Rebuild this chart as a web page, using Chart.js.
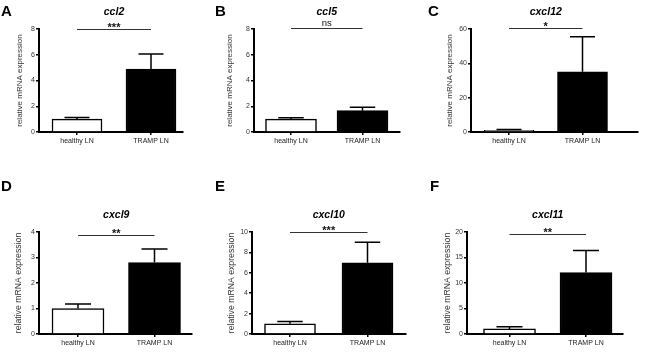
<!DOCTYPE html>
<html><head><meta charset="utf-8">
<script src="https://cdn.jsdelivr.net/npm/chart.js@4"></script>
<style>
body{margin:0;background:#fff;width:650px;height:357px;overflow:hidden;position:relative}
canvas{position:absolute;left:0;top:0}
</style></head>
<body>
<script>
// ---- data ----
const categories = ['healthy LN', 'TRAMP LN'];
const genes = ['ccl2', 'ccl5', 'cxcl12', 'cxcl9', 'cxcl10', 'cxcl11'];
const panelLetters = ['A', 'B', 'C', 'D', 'E', 'F'];
const healthyMean = [1.0, 1.0, 1.0, 1.0, 1.0, 1.0];
const healthyUpper = [1.12, 1.1, 1.4, 1.18, 1.23, 1.42];
const trampMean = [4.88, 1.66, 35.1, 2.8, 6.98, 12.05];
const trampUpper = [6.05, 1.92, 55.5, 3.33, 9.0, 16.35];
const yMax = [8, 8, 60, 4, 10, 20];
const yStep = [2, 2, 20, 1, 2, 5];
const significance = ['***', 'ns', '*', '**', '***', '**'];
const yAxisTitle = 'relative mRNA expression';

// ---- layout (pixel geometry of each panel) ----
const layout = [
  {L:39,  R:183, T:29,  B:132, c1:77,    c2:151,   bw:50, titleX:20,  lx:1,   ly:16,  sig:0, af:8},
  {L:254, R:400, T:29,  B:132, c1:291,   c2:362.5, bw:51, titleX:230, lx:215, ly:16,  sig:-1, af:8},
  {L:471, R:638, T:29,  B:132, c1:509,   c2:582.5, bw:50, titleX:450, lx:428, ly:16,  sig:-1, af:8},
  {L:39,  R:192, T:232, B:334, c1:78,    c2:154.5, bw:52, titleX:19,  lx:1,   ly:191, sig:3, af:8.7},
  {L:252, R:406, T:232, B:334, c1:290,   c2:367.5, bw:51, titleX:232, lx:215, ly:191, sig:0, af:8.7},
  {L:467, R:623, T:232, B:334, c1:509.5, c2:586,   bw:52, titleX:448, lx:430, ly:191, sig:2, af:8.7}
];
const W = 650, H = 357, XH = 20;
const FONT = '"Liberation Sans", Arial, Helvetica, sans-serif';

function overlay(i, g) {
  return {
    id: 'overlay' + i,
    afterDraw(chart) {
      const ctx = chart.ctx, ys = chart.scales.y, xs = chart.scales.x;
      const meta = chart.getDatasetMeta(0);
      const means = [healthyMean[i], trampMean[i]];
      const uppers = [healthyUpper[i], trampUpper[i]];
      ctx.save();
      ctx.strokeStyle = '#000';
      ctx.lineWidth = 1.5;
      meta.data.forEach((bar, k) => {
        const x = bar.x;
        const y0 = ys.getPixelForValue(means[k]);
        const y1 = ys.getPixelForValue(uppers[k]);
        const cap = bar.width / 4;
        ctx.beginPath();
        ctx.moveTo(x, y0); ctx.lineTo(x, y1);
        ctx.moveTo(x - cap, y1); ctx.lineTo(x + cap, y1);
        ctx.stroke();
      });
      // significance line
      const x1 = meta.data[0].x, x2 = meta.data[1].x;
      const lineY = chart.chartArea.top + g.sig;
      ctx.strokeStyle = '#333';
      ctx.lineWidth = 1;
      ctx.beginPath(); ctx.moveTo(x1, lineY + 0.5); ctx.lineTo(x2, lineY + 0.5); ctx.stroke();
      const mid = xs.getPixelForValue(1.5);
      ctx.fillStyle = '#111';
      ctx.textAlign = 'center';
      ctx.textBaseline = 'alphabetic';
      if (significance[i] === 'ns') {
        ctx.font = '9.5px ' + FONT;
        ctx.fillText(significance[i], mid, lineY - 2);
      } else {
        ctx.font = 'bold 11px ' + FONT;
        ctx.fillText(significance[i], mid, lineY + 1.5);
      }
      // gene title
      ctx.font = 'italic bold 10.5px ' + FONT;
      ctx.fillStyle = '#000';
      ctx.fillText(genes[i], mid, chart.chartArea.top - 14.5);
      // panel letter
      ctx.font = 'bold 15px ' + FONT;
      ctx.textAlign = 'left';
      ctx.fillText(panelLetters[i], g.lx, g.ly);
      ctx.restore();
    }
  };
}

genes.forEach((gene, i) => {
  const g = layout[i];
  const cv = document.createElement('canvas');
  cv.width = W; cv.height = H;
  document.body.appendChild(cv);
  const unit = g.c2 - g.c1;
  const xmin = 1 - (g.c1 - g.L) / unit;
  const xmax = 2 + (g.R - g.c2) / unit;
  const padLeft = g.titleX - g.af / 2;
  new Chart(cv, {
    type: 'bar',
    data: {
      datasets: [{
        data: [{x: 1, y: healthyMean[i]}, {x: 2, y: trampMean[i]}],
        backgroundColor: ['#ffffff', '#000000'],
        borderColor: '#000',
        borderWidth: 1.5,
        borderSkipped: 'start',
        barThickness: g.bw
      }]
    },
    options: {
      responsive: false,
      animation: false,
      devicePixelRatio: 1,
      events: [],
      layout: {padding: {left: padLeft, top: g.T, right: W - g.R, bottom: H - g.B - XH}},
      plugins: {legend: {display: false}, tooltip: {enabled: false}, title: {display: false}},
      scales: {
        x: {
          type: 'linear',
          min: xmin, max: xmax,
          offset: false,
          z: 1,
          afterBuildTicks: s => { s.ticks = [{value: 1}, {value: 2}]; },
          afterFit: s => { s.height = XH; },
          ticks: {
            callback: v => categories[Math.round(v) - 1],
            font: {family: FONT, size: 7},
            color: '#222',
            padding: 2,
            maxRotation: 0,
            autoSkip: false
          },
          grid: {drawOnChartArea: false, drawTicks: true, tickLength: 3, color: '#000', lineWidth: 1.5, offset: false},
          border: {display: true, color: '#000', width: 2}
        },
        y: {
          min: 0, max: yMax[i],
          z: 1,
          afterFit: s => { s.width = g.L - padLeft; },
          ticks: {
            stepSize: yStep[i],
            font: {family: FONT, size: 7},
            color: '#333',
            padding: 1
          },
          grid: {drawOnChartArea: false, drawTicks: true, tickLength: 3, color: '#000', lineWidth: 1.5},
          border: {display: true, color: '#000', width: 2},
          title: {
            display: true,
            text: yAxisTitle,
            font: {family: FONT, size: g.af, lineHeight: 1},
            color: '#333',
            padding: 0
          }
        }
      }
    },
    plugins: [overlay(i, g)]
  });
});
</script>
</body></html>
